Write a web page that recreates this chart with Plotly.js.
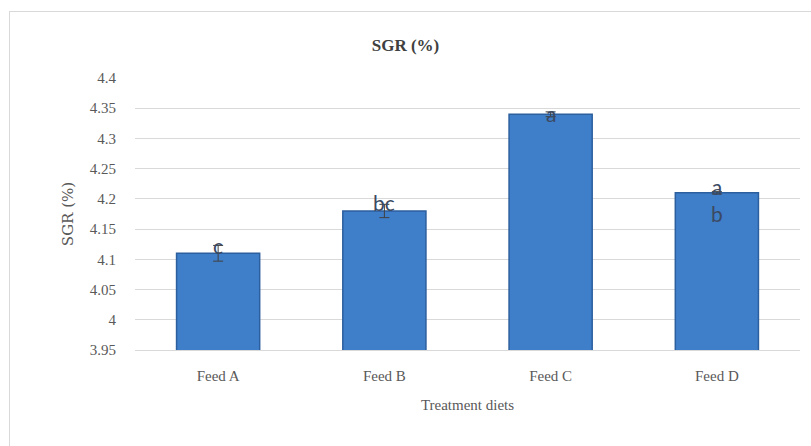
<!DOCTYPE html>
<html>
<head>
<meta charset="utf-8">
<script src="https://cdn.plot.ly/plotly-3.0.1.min.js"></script>
<style>
  html, body { margin: 0; padding: 0; background: #ffffff; }
  #chart { width: 811px; height: 446px; position: absolute; left: 0; top: 0; }
  #frame { position: absolute; left: 9px; top: 11px; width: 812px; height: 450px;
           border: 1px solid #d9d9d9; pointer-events: none; box-sizing: border-box; }
</style>
</head>
<body>
<div id="chart"></div>
<div id="frame"></div>
<script>
const categories = ['Feed A', 'Feed B', 'Feed C', 'Feed D'];
const sgrValues = [4.11, 4.18, 4.34, 4.21];
const sgrErrors = [0.013, 0.011, 0.004, 0.002];
const sigLabels = ['c', 'bc', 'a', 'a<br>b'];
const yTickVals = [3.95, 4, 4.05, 4.1, 4.15, 4.2, 4.25, 4.3, 4.35, 4.4];
const yTickText = ['3.95', '4', '4.05', '4.1', '4.15', '4.2', '4.25', '4.3', '4.35', '4.4'];

const serif = 'Liberation Serif';
const sans = 'Lato';

const trace = {
  type: 'bar',
  x: categories,
  y: sgrValues,
  marker: { color: '#3f7ec9', line: { color: '#2c5f9e', width: 1.5 } },
  error_y: { type: 'data', array: sgrErrors, visible: true, color: '#404040', thickness: 1, width: 5 },
  hoverinfo: 'x+y'
};

const annotations = categories.map((c, i) => ({
  x: c, y: sgrValues[i], xref: 'x', yref: 'y',
  text: sigLabels[i], showarrow: false,
  yanchor: 'middle',
  yshift: sigLabels[i].includes('<br>') ? -7 : (i === 2 ? 1 : 8),
  font: { family: sans, size: 21, color: '#3b4a63' }
}));

const layout = {
  width: 811, height: 446,
  font: { family: serif },
  margin: { l: 135, r: 11, t: 78, b: 96 },
  paper_bgcolor: 'rgba(0,0,0,0)',
  plot_bgcolor: 'rgba(0,0,0,0)',
  showlegend: false,
  bargap: 0.5,
  title: { text: '<b>SGR (%)</b>', x: 0.5, xanchor: 'center', y: 0.9, yanchor: 'middle',
           font: { family: serif, size: 17, color: '#404040' } },
  xaxis: {
    type: 'category',
    showgrid: false,
    showline: true, linecolor: '#d9d9d9', linewidth: 1,
    ticks: '',
    tickfont: { family: serif, size: 15, color: '#595959' },
    ticklabelstandoff: 12,
    title: { text: 'Treatment diets', standoff: 16, font: { family: serif, size: 15, color: '#595959' } }
  },
  yaxis: {
    range: [3.95, 4.4],
    tickvals: yTickVals, ticktext: yTickText,
    showgrid: true, gridcolor: '#d9d9d9', gridwidth: 1,
    zeroline: false, showline: false, ticks: '',
    ticklabelstandoff: 18,
    tickfont: { family: serif, size: 15, color: '#595959' },
    title: { text: 'SGR (%)', standoff: 12, font: { family: 'DejaVu Serif', size: 15, color: '#595959' } }
  },
  annotations: annotations
};

Plotly.newPlot('chart', [trace], layout, { displayModeBar: false, staticPlot: true });
</script>
</body>
</html>
